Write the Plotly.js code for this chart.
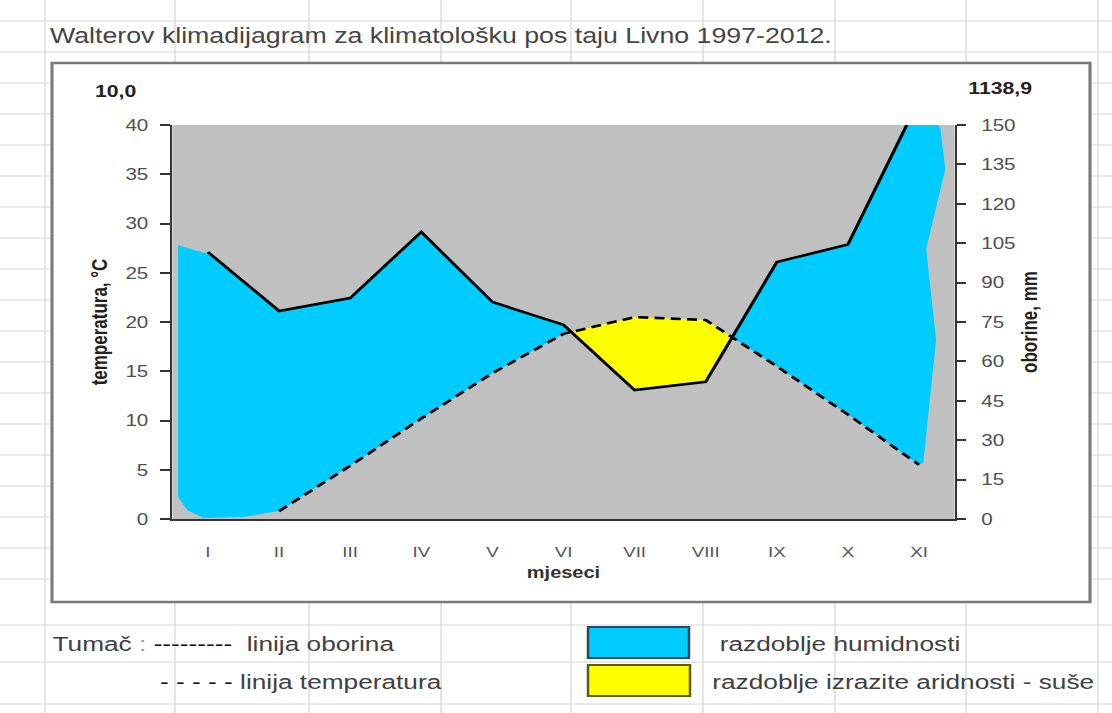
<!DOCTYPE html>
<html><head><meta charset="utf-8">
<script src="https://cdn.plot.ly/plotly-3.0.1.min.js"></script>
<style>
html,body{margin:0;padding:0;background:#fff;overflow:hidden;width:1112px;height:713px;}
#chart{width:890px;height:713px;transform-origin:0 0;}
</style></head>
<body><div id="chart"></div>
<script>
// ---------- data ----------
const months = ['I','II','III','IV','V','VI','VII','VIII','IX','X','XI'];
const precipitation = [101.6, 79.2, 84.1, 109.3, 82.6, 73.9, 49.1, 52.2, 97.8, 104.5, 159.5]; // mm
const temperature   = [null, 0.8, 5.4, 10.2, 14.8, 18.8, 20.5, 20.2, 15.5, 10.6, 5.5];      // °C
const annualTemp = '10,0';
const annualPrecip = '1138,9';
const tempTicks = [0, 5, 10, 15, 20, 25, 30, 35, 40];
const precipTicks = [0, 15, 30, 45, 60, 75, 90, 105, 120, 135, 150];
// hand-drawn edges of the humid fill (x in month units, y in °C units)
const humidLeftTopX = [0.08, 0.45];
const humidLeftTopY = [27.8, 27.0];
const humidLeftBottomX = [1.0, 0.44, 0.21, 0.08];
const humidLeftBottomY = [0.2, 0.1, 0.9, 2.2];
const humidRightX = [10.80, 10.87, 10.60, 10.74, 10.56];
const humidRightY = [39.7, 35.5, 27.4, 18.2, 5.7];

// ---------- geometry helpers ----------
const PAGE_W = 1112, W = 890, H = 713, S = PAGE_W / W;
const ml = Math.round(172 / S), mr = Math.round(W - 954 / S), mt = 125, mb = H - 519;
const pw = W - ml - mr, ph = H - mt - mb;
const PX = xr => (xr / S - ml) / pw;      // reference pixel -> paper x
const PY = yr => (H - mb - yr) / ph;      // reference pixel -> paper y

const tempMax = tempTicks[tempTicks.length - 1];
const precipMax = precipTicks[precipTicks.length - 1];
const xs = months.map((m, i) => i + 0.5);
const pT = precipitation.map(p => p * tempMax / precipMax);

function crossing(i) {
  const d0 = pT[i] - temperature[i], d1 = pT[i + 1] - temperature[i + 1];
  const t = d0 / (d0 - d1);
  return [xs[i] + t, pT[i] + t * (pT[i + 1] - pT[i])];
}
const crossings = [];
for (let i = 0; i < months.length - 1; i++) {
  if (temperature[i] == null || temperature[i + 1] == null) continue;
  const a = pT[i] - temperature[i], b = pT[i + 1] - temperature[i + 1];
  if (a * b < 0) crossings.push(i);
}
const iA = crossings[0], iB = crossings[1];
const cA = crossing(iA), cB = crossing(iB);

// left humid polygon
let lx = [...humidLeftTopX], ly = [...humidLeftTopY];
for (let i = 0; i <= iA; i++) { lx.push(xs[i]); ly.push(pT[i]); }
lx.push(cA[0]); ly.push(cA[1]);
for (let i = iA; i >= 0; i--) { if (temperature[i] != null) { lx.push(xs[i]); ly.push(temperature[i]); } }
lx.push(...humidLeftBottomX); ly.push(...humidLeftBottomY);

// right humid polygon
let rx = [cB[0]], ry = [cB[1]];
for (let i = iB + 1; i < months.length; i++) { rx.push(xs[i]); ry.push(pT[i]); }
rx.push(...humidRightX); ry.push(...humidRightY);
for (let i = months.length - 1; i > iB; i--) { rx.push(xs[i]); ry.push(temperature[i]); }

// dry polygon
let dx = [cA[0]], dy = [cA[1]];
for (let i = iA + 1; i <= iB; i++) { dx.push(xs[i]); dy.push(temperature[i]); }
dx.push(cB[0]); dy.push(cB[1]);
for (let i = iB; i > iA; i--) { dx.push(xs[i]); dy.push(pT[i]); }

const BLUE = '#00CCFF', YELLOW = '#FFFF00', GRAY = '#C0C0C0';
const FONT = 'Liberation Sans, Arial, sans-serif';

const traces = [
  {x: lx, y: ly, type: 'scatter', mode: 'lines', fill: 'toself', fillcolor: BLUE, line: {width: 0}, hoverinfo: 'skip', showlegend: false},
  {x: rx, y: ry, type: 'scatter', mode: 'lines', fill: 'toself', fillcolor: BLUE, line: {width: 0}, hoverinfo: 'skip', showlegend: false},
  {x: dx, y: dy, type: 'scatter', mode: 'lines', fill: 'toself', fillcolor: YELLOW, line: {width: 0}, hoverinfo: 'skip', showlegend: false},
  {x: xs, y: temperature, type: 'scatter', mode: 'lines', name: 'linija temperatura',
   line: {color: '#000', width: 2.6, dash: '8px,5px'}, showlegend: false},
  {x: xs, y: precipitation, yaxis: 'y2', type: 'scatter', mode: 'lines', name: 'linija oborina',
   line: {color: '#000', width: 2.6}, showlegend: false}
];

const AX = '#333';
const tickFont = {family: FONT, size: 16.5, color: '#505050'};
const bounds = Array.from({length: months.length + 1}, (_, i) => i);

// spreadsheet gridlines behind the chart
const colLines = [45, 175, 309, 441, 571, 703, 835, 966, 1098];
const rowLines = [];
for (let y = 21; y < 600; y += 31) rowLines.push(y);
rowLines.push(625, 662, 704);
const shapes = [];
colLines.forEach(x => shapes.push({type: 'line', xref: 'paper', yref: 'paper', x0: PX(x), x1: PX(x), y0: PY(0), y1: PY(713), line: {color: '#d6d6d6', width: 1}, layer: 'below'}));
rowLines.forEach(y => shapes.push({type: 'line', xref: 'paper', yref: 'paper', x0: PX(0), x1: PX(1112), y0: PY(y), y1: PY(y), line: {color: '#d6d6d6', width: 1}, layer: 'below'}));
// chart area
shapes.push({type: 'rect', xref: 'paper', yref: 'paper', x0: PX(52), x1: PX(1090), y0: PY(602), y1: PY(63), fillcolor: '#fff', line: {color: '#7a7a7a', width: 2.5}, layer: 'below'});
// plot area background
shapes.push({type: 'rect', xref: 'x domain', yref: 'y domain', x0: 0, x1: 1, y0: 0, y1: 1, fillcolor: GRAY, line: {width: 0}, layer: 'below'});
// legend keys
shapes.push({type: 'rect', xref: 'paper', yref: 'paper', x0: PX(588), x1: PX(689), y0: PY(658), y1: PY(627), fillcolor: BLUE, line: {color: '#2f4858', width: 2}, layer: 'above'});
shapes.push({type: 'rect', xref: 'paper', yref: 'paper', x0: PX(588), x1: PX(690), y0: PY(696), y1: PY(665), fillcolor: YELLOW, line: {color: '#5e5a1a', width: 2}, layer: 'above'});

const txt = (text, x, y, opts = {}) => Object.assign({
  text, xref: 'paper', yref: 'paper', x: PX(x), y: PY(y), showarrow: false,
  xanchor: 'left', yanchor: 'middle', font: {family: FONT, size: 21, color: '#404040'}
}, opts);

const annotations = [
  txt('Walterov klimadijagram za klimatološku pos taju Livno 1997-2012.', 48, 36, {font: {family: FONT, size: 21.4, color: '#454545'}}),
  txt(annualTemp, 116, 91, {xanchor: 'center', font: {family: FONT, size: 17, color: '#222', weight: 'bold'}}),
  txt(annualPrecip, 1000, 89, {xanchor: 'center', font: {family: FONT, size: 17, color: '#222', weight: 'bold'}}),
  txt('Tumač <span style="color:#999">:</span> <span style="color:#111">---------</span>  linija oborina', 50, 643),
  txt('<span style="color:#111">- - - - -</span> linija temperatura', 157, 681),
  txt('razdoblje humidnosti', 717, 643),
  txt('razdoblje izrazite aridnosti - suše', 710, 681)
];

const layout = {
  width: W, height: H,
  margin: {l: ml, r: mr, t: mt, b: mb, pad: 0},
  paper_bgcolor: 'rgba(0,0,0,0)', plot_bgcolor: GRAY,
  showlegend: false,
  font: {family: FONT},
  xaxis: {range: [0, months.length], tickmode: 'array', tickvals: xs, ticktext: months, ticks: '',
          showline: true, linecolor: AX, linewidth: 2, showgrid: false, zeroline: false,
          tickfont: {family: FONT, size: 15, color: '#555'}, ticklabelstandoff: 18,
          title: {text: 'mjeseci', standoff: 8, font: {family: FONT, size: 16, color: '#333', weight: 'bold'}}},
  xaxis2: {overlaying: 'x', anchor: 'y', range: [0, months.length], tickmode: 'array', tickvals: bounds,
           ticks: 'outside', ticklen: 6, tickwidth: 2, tickcolor: AX, showticklabels: false,
           showline: false, showgrid: false, zeroline: false},
  xaxis3: {overlaying: 'x', anchor: 'y', range: [0, months.length], tickmode: 'array', tickvals: bounds,
           ticks: 'inside', ticklen: 6, tickwidth: 2, tickcolor: AX, showticklabels: false,
           showline: false, showgrid: false, zeroline: false},
  yaxis: {range: [0, tempMax], tickmode: 'array', tickvals: tempTicks, ticks: 'outside', ticklen: 8, tickwidth: 2,
          tickcolor: AX, showline: true, linecolor: AX, linewidth: 2, showgrid: false, zeroline: false,
          tickfont: tickFont, ticklabelstandoff: 6,
          title: {text: 'temperatura, °C', standoff: 10, font: {family: FONT, size: 17, color: '#222', weight: 'bold'}}},
  yaxis2: {overlaying: 'y', side: 'right', anchor: 'x', range: [0, precipMax], tickmode: 'array', tickvals: precipTicks,
           ticks: 'outside', ticklen: 7, tickwidth: 2, tickcolor: AX, showline: true, linecolor: AX, linewidth: 2,
           showgrid: false, zeroline: false, tickfont: tickFont, ticklabelstandoff: 9,
           title: {text: 'oborine, mm', standoff: 6, font: {family: FONT, size: 17, color: '#222', weight: 'bold'}}},
  yaxis3: {overlaying: 'y', side: 'left', anchor: 'x', range: [0, tempMax], tickmode: 'array', tickvals: tempTicks,
           ticks: 'inside', ticklen: 4, tickwidth: 2, tickcolor: AX, showticklabels: false,
           showline: false, showgrid: false, zeroline: false},
  yaxis4: {overlaying: 'y', side: 'right', anchor: 'x', range: [0, precipMax], tickmode: 'array', tickvals: precipTicks,
           ticks: 'inside', ticklen: 5, tickwidth: 2, tickcolor: AX, showticklabels: false,
           showline: false, showgrid: false, zeroline: false},
  shapes, annotations
};

const el = document.getElementById('chart');
el.style.transform = 'scaleX(' + S + ')';
Plotly.newPlot(el, traces, layout, {staticPlot: true, displayModeBar: false});
</script>
</body></html>
